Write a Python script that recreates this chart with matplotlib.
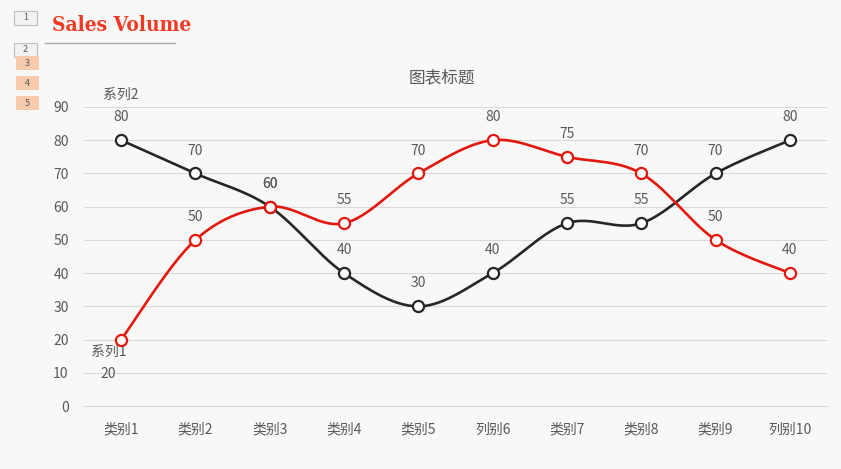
import numpy as np
import matplotlib.pyplot as plt
from matplotlib.patches import Rectangle

plt.rcParams['font.family'] = ['Noto Sans CJK SC', 'DejaVu Sans']

categories = ["类别1", "类别2", "类别3", "类别4", "类别5", "列别6", "类别7", "类别8", "类别9", "列别10"]
series1 = [20, 50, 60, 55, 70, 80, 75, 70, 50, 40]
series2 = [80, 70, 60, 40, 30, 40, 55, 55, 70, 80]
yticks = [0, 10, 20, 30, 40, 50, 60, 70, 80, 90]

W, H = 841, 469
fig = plt.figure(figsize=(W / 100, H / 100), dpi=100)
fig.patch.set_facecolor('#f8f8f8')

# plot area in pixels
left, right, top, bottom = 84, 827, 107, 406
ax = fig.add_axes([left / W, 1 - bottom / H, (right - left) / W, (bottom - top) / H])
ax.set_facecolor('#f8f8f8')


def smooth(y, n=30):
    # catmull-rom spline through the points (like office "smoothed line")
    y = np.asarray(y, float)
    x = np.arange(len(y), dtype=float)
    px = np.concatenate([[x[0]], x, [x[-1]]])
    py = np.concatenate([[y[0]], y, [y[-1]]])
    xs, ys = [], []
    t = np.linspace(0, 1, n)
    for i in range(1, len(px) - 2):
        for p, out in ((px, xs), (py, ys)):
            p0, p1, p2, p3 = p[i - 1], p[i], p[i + 1], p[i + 2]
            out.append(0.5 * ((2 * p1) + (-p0 + p2) * t
                              + (2 * p0 - 5 * p1 + 4 * p2 - p3) * t ** 2
                              + (-p0 + 3 * p1 - 3 * p2 + p3) * t ** 3))
    return np.concatenate(xs), np.concatenate(ys)


x = np.arange(len(categories))
lab_col = '#595959'

for vals, col in ((series2, '#262626'), (series1, '#e3170d')):
    sx, sy = smooth(vals)
    ax.plot(sx, sy, color=col, lw=1.9, solid_capstyle='round', zorder=3)
    ax.plot(x, vals, 'o', ms=8, mfc='white', mec=col, mew=1.6, zorder=4)

for i, v in enumerate(series2):
    ax.annotate(str(v), (x[i], v), xytext=(0, 16.5), textcoords='offset points',
                ha='center', va='center', fontsize=10, color=lab_col)
for i, v in enumerate(series1):
    if i == 0:
        continue
    ax.annotate(str(v), (x[i], v), xytext=(0, 16.5), textcoords='offset points',
                ha='center', va='center', fontsize=10, color=lab_col)

# series name labels
ax.annotate("系列2", (x[0], series2[0]), xytext=(0, 33), textcoords='offset points',
            ha='center', va='center', fontsize=10, color=lab_col)
ax.annotate("系列1", (x[0], series1[0]), xytext=(-9, -9), textcoords='offset points',
            ha='center', va='center', fontsize=10, color=lab_col)
ax.annotate(str(series1[0]), (x[0], series1[0]), xytext=(-9, -25), textcoords='offset points',
            ha='center', va='center', fontsize=10, color=lab_col)

ax.set_xlim(-0.5, len(categories) - 0.5)
ax.set_ylim(0, 90)
ax.set_yticks(yticks)
ax.set_xticks(x)
ax.set_xticklabels(categories)
ax.grid(axis='y', color='#d9d9d9', lw=0.8)
ax.axhline(0, color='#d9d9d9', lw=0.8, clip_on=False, zorder=0)
ax.set_axisbelow(True)
for s in ax.spines.values():
    s.set_visible(False)
ax.tick_params(axis='both', length=0, labelsize=10, colors=lab_col)
ax.tick_params(axis='y', pad=11)
ax.tick_params(axis='x', pad=12)

fig.text(442 / W, 1 - 78 / H, "图表标题", ha='center', va='center', fontsize=12, color=lab_col)

# header decorations
fig.text(52 / W, 1 - 25 / H, "Sales Volume", ha='left', va='center', fontsize=15,
         fontweight='bold', fontstretch='condensed', color='#f23a22', family='DejaVu Serif')
fig.add_artist(plt.Line2D([45 / W, 175 / W], [1 - 43 / H, 1 - 43 / H], color='#a6a6a6', lw=1))

boxes = [("1", 14, 11, '#f2f2f2', '#bfbfbf'), ("2", 14, 43, '#f2f2f2', '#bfbfbf'),
         ("3", 16, 56, '#f8cbad', 'none'), ("4", 16, 76, '#f8cbad', 'none'),
         ("5", 16, 96, '#f8cbad', 'none')]
for txt, bx, by, fc, ec in boxes:
    fig.add_artist(Rectangle((bx / W, 1 - (by + 14) / H), 23 / W, 14 / H, facecolor=fc,
                             edgecolor=ec, lw=0.8, transform=fig.transFigure))
    fig.text((bx + 11.5) / W, 1 - (by + 7) / H, txt, ha='center', va='center',
             fontsize=6.5, color=lab_col)

fig.savefig("out.png", dpi=100, facecolor=fig.get_facecolor())
